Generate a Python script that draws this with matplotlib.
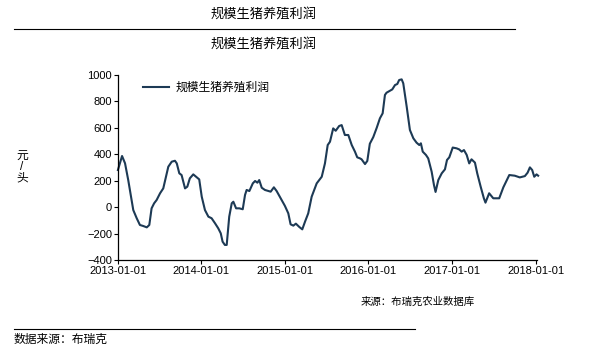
import numpy as np
import pandas as pd
import matplotlib.pyplot as plt
import matplotlib.dates as mdates
from matplotlib.lines import Line2D

plt.rcParams['font.family'] = ['Liberation Sans', 'Noto Sans CJK SC', 'DejaVu Sans']

# days since 2013-01-01
days = [1, 19, 32, 46, 58, 68, 83, 97, 112, 127, 138, 148, 159, 170, 185, 199,
        211, 221, 236, 250, 258, 269, 279, 294, 304, 315, 330, 342, 356, 367,
        381, 396, 410, 425, 439, 450, 458, 468, 476, 487, 498, 505, 517, 531,
        546, 556, 563, 575, 590, 600, 610, 618, 629, 643, 658, 668, 682, 694,
        708, 730, 740, 745, 755, 767, 778, 793, 806, 818, 832, 847, 869, 891,
        905, 917, 927, 941, 952, 967, 978, 992, 1007, 1022, 1036, 1046, 1058,
        1065, 1080, 1090, 1101, 1116, 1131, 1145, 1157, 1167, 1174, 1189, 1199,
        1211, 1221, 1229, 1240, 1247, 1262, 1276, 1291, 1305, 1317, 1324, 1332,
        1346, 1356, 1371, 1381, 1388, 1400, 1415, 1429, 1438, 1448, 1463, 1480,
        1491, 1502, 1512, 1524, 1535, 1545, 1560, 1570, 1585, 1599, 1606, 1622,
        1640, 1666, 1684, 1710, 1734, 1756, 1778, 1790, 1800, 1810, 1819, 1829,
        1836]
profit = [281, 387, 332, 205, 79, -22, -84, -135, -143, -153, -135, -9, 29, 54,
          105, 142, 230, 306, 344, 351, 331, 256, 243, 142, 155, 218, 248, 230,
          210, 79, -22, -72, -84, -122, -160, -198, -261, -286, -286, -72, 29,
          41, -9, -9, -16, 92, 130, 122, 180, 198, 185, 205, 147, 130, 122, 117,
          150, 122, 79, 10, -27, -47, -130, -140, -125, -150, -168, -110, -47,
          79, 180, 230, 331, 470, 495, 596, 578, 614, 621, 546, 546, 470, 420,
          377, 369, 362, 326, 350, 480, 530, 600, 672, 710, 849, 866, 881, 891,
          924, 932, 962, 967, 937, 760, 584, 521, 488, 470, 483, 420, 395, 369,
          268, 168, 115, 205, 256, 286, 357, 377, 451, 445, 437, 420, 432, 395,
          331, 362, 337, 256, 155, 67, 34, 105, 67, 67, 150, 243, 238, 225, 235,
          261, 301, 281, 230, 248, 238]

dates = pd.Timestamp('2013-01-01') + pd.to_timedelta(days, unit='D')
tick_dates = pd.to_datetime(['2013-01-01', '2014-01-01', '2015-01-01',
                             '2016-01-01', '2017-01-01', '2018-01-01'])
yticks = [-400, -200, 0, 200, 400, 600, 800, 1000]

line_color = '#1d3a55'

fig = plt.figure(figsize=(6.01, 3.55), dpi=100)
ax = fig.add_axes([117.7 / 601, 1 - 260 / 355, (537 - 117.7) / 601, 185 / 355])

ax.plot(dates, profit, color=line_color, lw=1.5, label='规模生猪养殖利润', clip_on=False)

ax.set_ylim(-400, 1000)
ax.set_xlim(pd.Timestamp('2013-01-01'), pd.Timestamp('2018-01-06'))
ax.set_yticks(yticks)
ax.set_xticks(tick_dates)
ax.xaxis.set_major_formatter(mdates.DateFormatter('%Y-%m-%d'))
ax.tick_params(direction='out', length=3, width=0.8, labelsize=8, pad=1)
for s in ['top', 'right']:
    ax.spines[s].set_visible(False)
for s in ['left', 'bottom']:
    ax.spines[s].set_linewidth(0.9)

leg = ax.legend(loc='upper left', bbox_to_anchor=(0.035, 1.02), frameon=False,
                fontsize=8.5, handlelength=2.2, handletextpad=0.6)

# y label stacked
fig.text(22 / 601, 1 - 167 / 355, '元\n/\n头', ha='center', va='center',
         fontsize=8.5, linespacing=0.9)

# titles and frame lines
fig.text(264 / 601, 1 - 15 / 355, '规模生猪养殖利润', ha='center', va='center', fontsize=9.5)
fig.text(264 / 601, 1 - 45 / 355, '规模生猪养殖利润', ha='center', va='center', fontsize=9.5)
fig.add_artist(Line2D([14 / 601, 515 / 601], [1 - 29 / 355, 1 - 29 / 355],
                      color='black', lw=0.8))
fig.add_artist(Line2D([14 / 601, 415 / 601], [1 - 329 / 355, 1 - 329 / 355],
                      color='black', lw=0.8))

fig.text(361 / 601, 1 - 302 / 355, '来源：布瑞克农业数据库', ha='left', va='center', fontsize=7.5)
fig.text(14 / 601, 1 - 340 / 355, '数据来源：布瑞克', ha='left', va='center', fontsize=8.5)

plt.savefig('out.png', dpi=100)
